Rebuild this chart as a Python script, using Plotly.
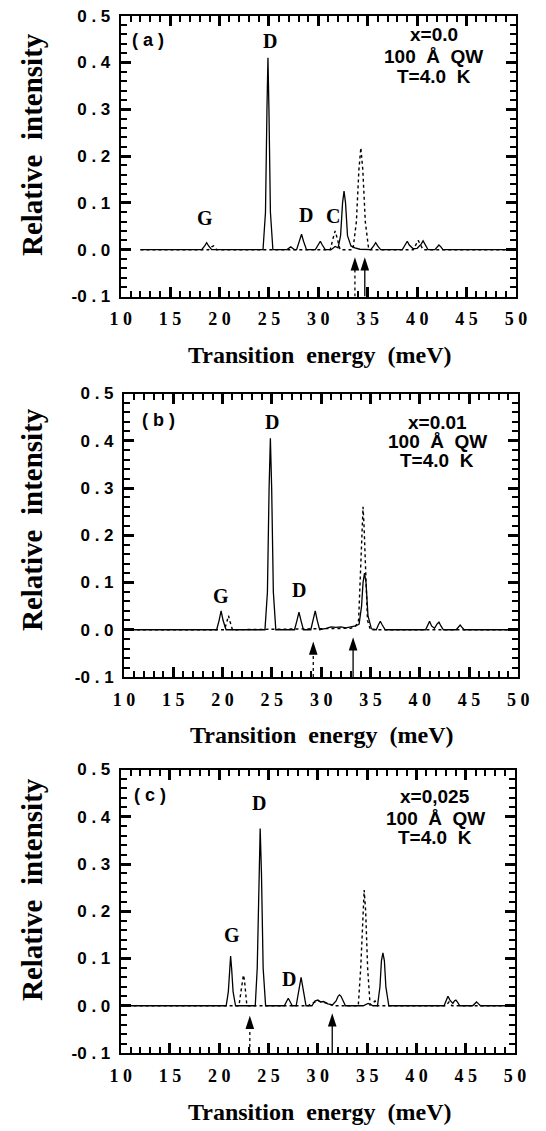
import plotly.graph_objects as go

# ---------------- data ----------------
# Panel (a) x=0.0
a_solid_x = [12.0, 18.2, 18.5, 18.7, 18.9, 19.2,
             24.4, 24.65, 24.8, 24.9, 25.0, 25.15, 25.4,
             26.8, 27.2, 27.6,
             27.8, 28.1, 28.3, 28.5, 28.8,
             29.7, 30.0, 30.2, 30.4, 30.7,
             31.3, 31.7, 32.0, 32.25, 32.45, 32.6, 32.75, 32.95, 33.3, 33.7, 34.2,
             35.3, 35.6, 35.8, 36.0, 36.3,
             38.5, 38.8, 39.0, 39.2, 39.6, 40.0, 40.4, 40.6, 40.8, 41.1,
             41.8, 42.0, 42.2, 42.4, 42.6,
             49.2]
a_solid_y = [0, 0, 0.008, 0.015, 0.008, 0,
             0, 0.08, 0.30, 0.41, 0.30, 0.08, 0,
             0, 0.006, 0,
             0, 0.018, 0.033, 0.018, 0,
             0, 0.010, 0.018, 0.010, 0,
             0, 0.007, 0.004, 0.030, 0.100, 0.125, 0.100, 0.030, 0.008, 0.004, 0.001,
             0, 0.008, 0.015, 0.008, 0,
             0, 0.010, 0.018, 0.010, 0.002, 0.003, 0.012, 0.019, 0.012, 0,
             0, 0.006, 0.010, 0.006, 0,
             0]
a_dot_x = [12.0, 18.9, 19.2, 19.4, 19.7,
           31.2, 31.5, 31.7, 31.9, 32.2,
           33.5, 33.85, 34.1, 34.3, 34.5, 34.75, 35.1,
           39.6, 39.9, 40.1, 40.3, 40.6,
           49.2]
a_dot_y = [0, 0, 0.006, 0.008, 0,
           0, 0.025, 0.040, 0.025, 0,
           0, 0.060, 0.170, 0.218, 0.170, 0.060, 0,
           0, 0.012, 0.020, 0.012, 0,
           0]

# Panel (b) x=0.01
b_solid_x = [10.1, 19.4, 19.65, 19.85, 20.05, 20.35,
             24.3, 24.55, 24.72, 24.85, 24.98, 25.15, 25.4,
             27.3, 27.55, 27.75, 27.95, 28.2,
             28.95, 29.2, 29.4, 29.6, 29.85,
             30.5, 31.0, 31.5, 32.0, 32.5, 33.0, 33.5, 33.85, 34.1, 34.25, 34.4, 34.55, 34.75, 35.1,
             35.6, 35.8, 36.0, 36.2, 36.5,
             40.6, 40.85, 41.0, 41.2, 41.5, 41.75, 41.95, 42.15, 42.4,
             43.7, 43.95, 44.1, 44.25, 44.5,
             49.2]
b_solid_y = [0, 0, 0.020, 0.040, 0.020, 0,
             0, 0.08, 0.30, 0.405, 0.30, 0.08, 0,
             0, 0.020, 0.037, 0.020, 0,
             0, 0.020, 0.040, 0.020, 0,
             0.003, 0.006, 0.005, 0.006, 0.004, 0.006, 0.008, 0.012, 0.050, 0.100, 0.120, 0.100, 0.030, 0.002,
             0, 0.010, 0.018, 0.010, 0,
             0, 0.010, 0.018, 0.008, 0.003, 0.012, 0.016, 0.008, 0,
             0, 0.006, 0.010, 0.006, 0,
             0]
b_dot_x = [10.1, 20.2, 20.45, 20.6, 20.75, 21.0,
           33.0, 33.5, 33.8, 34.0, 34.15, 34.25, 34.35, 34.5, 34.7, 35.0,
           49.2]
b_dot_y = [0, 0, 0.018, 0.030, 0.018, 0,
           0.003, 0.008, 0.020, 0.120, 0.220, 0.260, 0.220, 0.120, 0.020, 0,
           0]

# Panel (c) x=0.025
c_solid_x = [10.7, 20.7, 20.92, 21.05, 21.15, 21.25, 21.4, 21.65,
             23.65, 23.85, 24.02, 24.15, 24.28, 24.45, 24.7,
             26.6, 26.85, 27.0, 27.15, 27.4,
             27.8, 28.05, 28.3, 28.55, 28.8,
             29.4, 29.7, 30.0, 30.3, 30.6, 31.0, 31.5, 31.85, 32.05, 32.2, 32.35, 32.55, 32.8,
             34.6, 35.1, 35.6,
             36.05, 36.3, 36.45, 36.6, 36.75, 36.9, 37.2,
             42.8, 43.05, 43.2, 43.4, 43.7, 43.85, 44.0, 44.15, 44.4,
             45.7, 45.95, 46.1, 46.25, 46.5,
             49.4]
c_solid_y = [0, 0, 0.030, 0.080, 0.105, 0.080, 0.030, 0,
             0, 0.08, 0.28, 0.375, 0.28, 0.08, 0,
             0, 0.010, 0.016, 0.010, 0,
             0, 0.030, 0.060, 0.030, 0,
             0, 0.010, 0.012, 0.008, 0.009, 0.004, 0.002, 0.010, 0.020, 0.023, 0.020, 0.010, 0,
             0, 0.005, 0,
             0, 0.040, 0.095, 0.112, 0.095, 0.040, 0,
             0, 0.012, 0.020, 0.012, 0.005, 0.010, 0.012, 0.008, 0,
             0, 0.005, 0.008, 0.005, 0,
             0]
c_dot_x = [10.7, 22.0, 22.2, 22.35, 22.45, 22.55, 22.8,
           29.0, 29.5, 30.0, 30.5, 31.0, 31.5,
           34.1, 34.35, 34.55, 34.7, 34.85, 35.05, 35.3, 35.55, 35.8, 36.05,
           43.0, 43.3, 43.6,
           49.4]
c_dot_y = [0, 0, 0.030, 0.060, 0.065, 0.055, 0,
           0, 0.006, 0.010, 0.007, 0.005, 0,
           0, 0.080, 0.200, 0.245, 0.200, 0.080, 0.002, 0.005, 0.010, 0,
           0, 0.008, 0,
           0]

# arrows: energy position and tip height
arrow_dot_x = [33.7, 29.2, 23.1]
arrow_dot_tip = [-0.016, -0.025, -0.021]
arrow_solid_x = [34.7, 33.24, 31.46]
arrow_solid_tip = [-0.016, -0.016, -0.016]

panel_tags = ["( a )", "( b )", "( c )"]
panel_x_text = ["x=0.0", "x=0.01", "x=0,025"]
# peak labels: (text, energy, intensity)
peak_labels = [
    [("G", 18.5, 0.067), ("D", 25.06, 0.445), ("D", 28.76, 0.075), ("C", 31.46, 0.071)],
    [("G", 19.79, 0.072), ("D", 25.06, 0.440), ("D", 27.76, 0.085)],
    [("G", 21.34, 0.149), ("D", 23.99, 0.430), ("D", 27.05, 0.057)],
]

x_ticks = [10, 15, 20, 25, 30, 35, 40, 45, 50]
x_tick_text = ["1 0", "1 5", "2 0", "2 5", "3 0", "3 5", "4 0", "4 5", "5 0"]
y_ticks = [-0.1, 0.0, 0.1, 0.2, 0.3, 0.4, 0.5]
y_tick_text = ["-0 . 1", "0 . 0", "0 . 1", "0 . 2", "0 . 3", "0 . 4", "0 . 5"]

# ---------------- layout geometry ----------------
W, H = 546, 1131
# pixel frames: (left, right, top, bottom)
frames = [(120.7, 516.0, 15.7, 296.5),
          (124.0, 518.3, 393.5, 677.0),
          (120.7, 515.0, 769.5, 1053.0)]
ytitle_center = [145.0, 520.0, 890.0]
xtitle_center = [(320, 355), (322, 735), (320, 1112)]
info_pos = [  # (energy, y1, y2, y3)
    (41.7, 0.459, 0.412, 0.371),
    (41.8, 0.439, 0.398, 0.358),
    (41.9, 0.443, 0.397, 0.356),
]
tag_pos = [(12.8, 0.448), (13.52, 0.444), (12.97, 0.446)]

series = [(a_solid_x, a_solid_y, a_dot_x, a_dot_y),
          (b_solid_x, b_solid_y, b_dot_x, b_dot_y),
          (c_solid_x, c_solid_y, c_dot_x, c_dot_y)]

SERIF = "Liberation Serif"
SANS = "Liberation Sans"

fig = go.Figure()
annotations = []
for i in range(3):
    sx, sy, dx, dy = series[i]
    xa = "x" if i == 0 else f"x{i+1}"
    ya = "y" if i == 0 else f"y{i+1}"
    fig.add_trace(go.Scatter(x=dx, y=dy, mode="lines", xaxis=xa, yaxis=ya,
                             line=dict(color="black", width=1.4, dash="dot")))
    fig.add_trace(go.Scatter(x=sx, y=sy, mode="lines", xaxis=xa, yaxis=ya,
                             line=dict(color="black", width=1.3)))
    # arrows
    fig.add_trace(go.Scatter(x=[arrow_dot_x[i], arrow_dot_x[i]], y=[-0.1, arrow_dot_tip[i] - 0.02],
                             mode="lines", xaxis=xa, yaxis=ya,
                             line=dict(color="black", width=1.3, dash="dot")))
    fig.add_trace(go.Scatter(x=[arrow_solid_x[i], arrow_solid_x[i]], y=[-0.1, arrow_solid_tip[i] - 0.02],
                             mode="lines", xaxis=xa, yaxis=ya,
                             line=dict(color="black", width=1.3)))
    fig.add_trace(go.Scatter(x=[arrow_dot_x[i], arrow_solid_x[i]],
                             y=[arrow_dot_tip[i], arrow_solid_tip[i]],
                             mode="markers", xaxis=xa, yaxis=ya,
                             marker=dict(symbol="arrow", size=14, color="black",
                                         line=dict(width=0))))

    l, r, t, b = frames[i]
    xdom = [l / W, r / W]
    ydom = [1 - b / H, 1 - t / H]
    xkey = "xaxis" if i == 0 else f"xaxis{i+1}"
    ykey = "yaxis" if i == 0 else f"yaxis{i+1}"
    xd = dict(domain=xdom, anchor=ya, range=[10, 50], tickmode="array",
              tickvals=x_ticks, ticktext=x_tick_text, automargin=False,
              ticks="inside", ticklen=10, tickwidth=2.5, tickcolor="black",
              minor=dict(dtick=1, tick0=10, ticks="inside", ticklen=6, tickwidth=2,
                         tickcolor="black"),
              showline=True, linewidth=2, linecolor="black", mirror="ticks",
              showgrid=False, zeroline=False, ticklabelstandoff=5,
              tickfont=dict(family=SERIF, size=18, color="black", weight="bold"))
    yd = dict(domain=ydom, anchor=xa, range=[-0.1, 0.5], tickmode="array",
              tickvals=y_ticks, ticktext=y_tick_text, automargin=False,
              ticks="inside", ticklen=10, tickwidth=2.5, tickcolor="black",
              minor=dict(dtick=0.02, tick0=0, ticks="inside", ticklen=6, tickwidth=2,
                         tickcolor="black"),
              showline=True, linewidth=2, linecolor="black", mirror="ticks",
              showgrid=False, zeroline=False, ticklabelstandoff=5,
              tickfont=dict(family=SANS, size=17, color="black", weight="bold"))
    fig.update_layout(**{xkey: xd, ykey: yd})

    # panel tag
    annotations.append(dict(text="<b>" + panel_tags[i] + "</b>", x=tag_pos[i][0], y=tag_pos[i][1],
                            xref=xa, yref=ya, showarrow=False, xanchor="center", yanchor="middle",
                            font=dict(family=SANS, size=18, color="black")))
    ex, y1, y2, y3 = info_pos[i]
    for txt, yy in ((panel_x_text[i], y1), ("100  Å  QW", y2), ("T=4.0  K", y3)):
        annotations.append(dict(text="<b>" + txt + "</b>", x=ex, y=yy, xref=xa, yref=ya,
                                showarrow=False, xanchor="center", yanchor="middle",
                                font=dict(family=SANS, size=19, color="black")))
    for txt, ex2, yy in peak_labels[i]:
        annotations.append(dict(text="<b>" + txt + "</b>", x=ex2, y=yy, xref=xa, yref=ya,
                                showarrow=False, xanchor="center", yanchor="middle",
                                font=dict(family=SERIF, size=20, color="black")))
    # axis titles
    annotations.append(dict(text="<b>Relative  intensity</b>", x=32 / W, y=1 - ytitle_center[i] / H,
                            xref="paper", yref="paper", showarrow=False, textangle=-90,
                            xanchor="center", yanchor="middle",
                            font=dict(family=SERIF, size=29, color="black")))
    annotations.append(dict(text="<b>Transition  energy  (meV)</b>", x=xtitle_center[i][0] / W,
                            y=1 - xtitle_center[i][1] / H,
                            xref="paper", yref="paper", showarrow=False,
                            xanchor="center", yanchor="middle",
                            font=dict(family=SERIF, size=24, color="black")))

fig.update_layout(template="none", width=W, height=H, margin=dict(l=0, r=0, t=0, b=0),
                  paper_bgcolor="white", plot_bgcolor="white", showlegend=False,
                  annotations=annotations)

fig.write_html("out.html", config={"displayModeBar": False},
               post_script="document.body.style.margin='0px';")
